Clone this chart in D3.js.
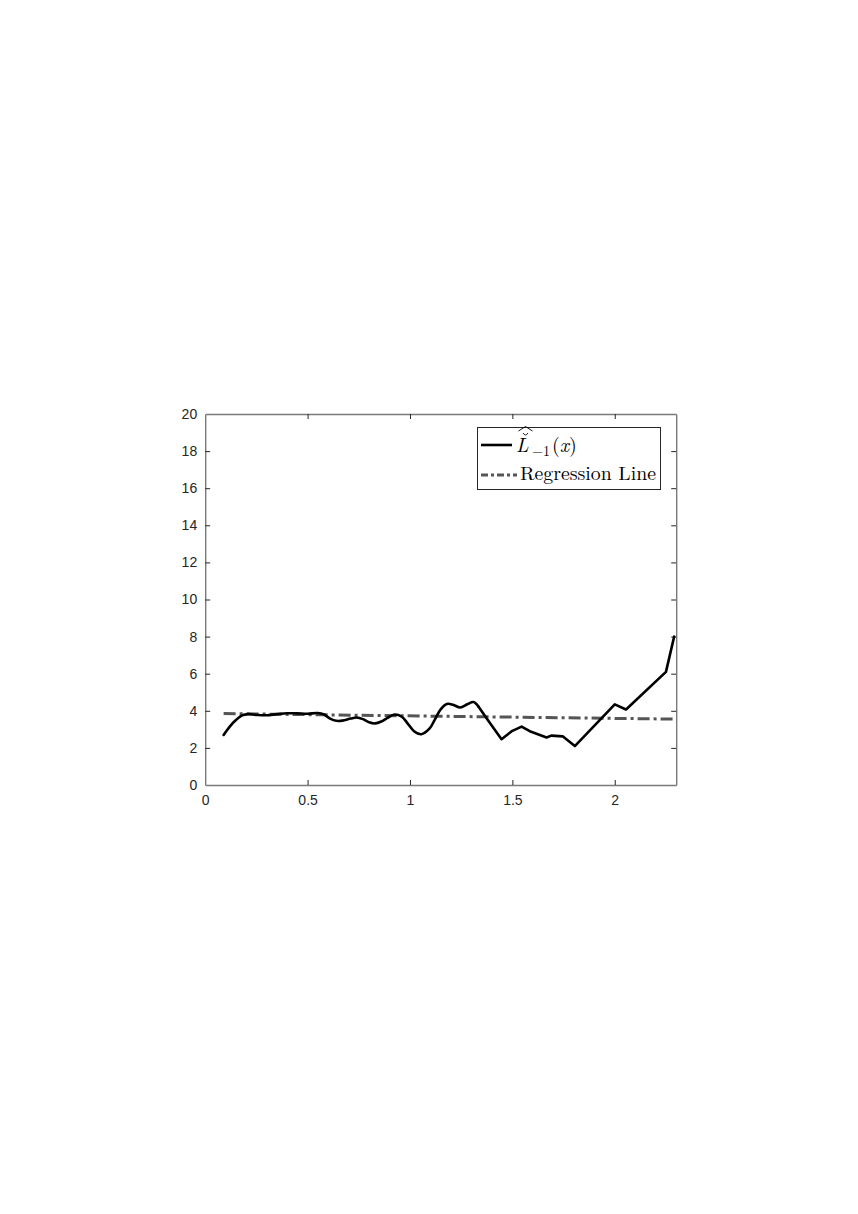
<!DOCTYPE html>
<html><head><meta charset="utf-8">
<script src="https://cdn.jsdelivr.net/npm/d3@7"></script>
<style>body{margin:0;background:#fff}svg{display:block}</style>
</head><body>
<script>
// ---- data ----
// smooth part of the estimated curve
const curveX = [0.09,0.12,0.15,0.18,0.21,0.25,0.30,0.35,0.40,0.45,0.50,0.55,0.58,0.61,0.64,0.67,0.71,0.74,0.77,0.80,0.83,0.86,0.89,0.925,0.96,0.99,1.02,1.055,1.096,1.12,1.15,1.18,1.21,1.245,1.28,1.31,1.335];
const curveY = [2.70,3.15,3.50,3.75,3.82,3.78,3.76,3.82,3.87,3.86,3.84,3.88,3.80,3.58,3.46,3.47,3.58,3.64,3.55,3.38,3.32,3.42,3.62,3.80,3.68,3.30,2.90,2.74,3.05,3.50,4.08,4.37,4.33,4.18,4.35,4.47,4.22];
// piecewise-linear tail of the estimated curve
const tailX = [1.335,1.38,1.447,1.50,1.545,1.585,1.667,1.69,1.747,1.805,2.0,2.055,2.25,2.29];
const tailY = [4.22,3.50,2.47,2.92,3.15,2.90,2.56,2.66,2.62,2.10,4.35,4.07,6.10,8.0];
const regX = [0.09, 2.3];
const regY = [3.85, 3.55];
const xTicks = [0, 0.5, 1, 1.5, 2];
const yTicks = [0, 2, 4, 6, 8, 10, 12, 14, 16, 18, 20];
const xTickLabels = ["0", "0.5", "1", "1.5", "2"];
const legendLabels = ["curve", "Regression Line"];

// ---- layout ----
const W = 858, H = 1214;
const svg = d3.select("body").append("svg").attr("width", W).attr("height", H);
const x = d3.scaleLinear().domain([0, 2.3]).range([205.2, 676.2]);
const y = d3.scaleLinear().domain([0, 20]).range([785, 414]);
const axisColor = "#7a7a7a", tickColor = "#262626", font = "'Liberation Sans', Arial, sans-serif";

// axes
const gx = svg.append("g").attr("transform", `translate(0,${y(0)})`)
  .call(d3.axisBottom(x).tickValues(xTicks).tickFormat((d,i)=>xTickLabels[i]).tickSizeInner(-5).tickSizeOuter(0).tickPadding(10));
const gy = svg.append("g").attr("transform", `translate(${x(0)},0)`)
  .call(d3.axisLeft(y).tickValues(yTicks).tickSizeInner(-5).tickSizeOuter(0).tickPadding(8));
const gt = svg.append("g").attr("transform", `translate(0,${y(20)})`)
  .call(d3.axisTop(x).tickValues(xTicks).tickFormat("").tickSizeInner(-5).tickSizeOuter(0));
const gr = svg.append("g").attr("transform", `translate(${x(2.3)},0)`)
  .call(d3.axisRight(y).tickValues(yTicks).tickFormat("").tickSizeInner(-5).tickSizeOuter(0));
[gx, gy, gt, gr].forEach(g => {
  g.select(".domain").attr("stroke", axisColor).attr("stroke-width", 1.4);
  g.selectAll(".tick line").attr("stroke", tickColor).attr("stroke-width", 1);
  g.selectAll(".tick text").attr("fill", tickColor).style("font-family", font).style("font-size", "14px");
});
[gx, gt].forEach(g => g.selectAll(".tick").filter(d => d === 0).select("line").remove());
[gy, gr].forEach(g => g.selectAll(".tick").filter(d => d === 0 || d === 20).select("line").remove());

// regression line
const line = d3.line().x(d => x(d[0])).y(d => y(d[1]));
svg.append("path").datum(regX.map((v,i)=>[v, regY[i]]))
  .attr("d", line).attr("fill", "none").attr("stroke", "#555").attr("stroke-width", 3)
  .attr("stroke-dasharray", "12,4,3,4");
// estimated curve: smooth part + linear tail
const smooth = d3.line().x(d => x(d[0])).y(d => y(d[1])).curve(d3.curveCatmullRom.alpha(0.5));
const straight = d3.line().x(d => x(d[0])).y(d => y(d[1]));
svg.append("path").datum(curveX.map((v,i)=>[v, curveY[i]]))
  .attr("d", smooth).attr("fill", "none").attr("stroke", "#000")
  .attr("stroke-width", 2.6).attr("stroke-linejoin", "round").attr("stroke-linecap", "round");
svg.append("path").datum(tailX.map((v,i)=>[v, tailY[i]]))
  .attr("d", straight).attr("fill", "none").attr("stroke", "#000")
  .attr("stroke-width", 2.6).attr("stroke-linejoin", "round").attr("stroke-linecap", "round");

// legend
const lg = svg.append("g");
lg.append("rect").attr("x", 477.5).attr("y", 427.5).attr("width", 183).attr("height", 62)
  .attr("fill", "#fff").attr("stroke", "#262626").attr("stroke-width", 1);
lg.append("line").attr("x1", 481).attr("x2", 512).attr("y1", 445).attr("y2", 445)
  .attr("stroke", "#000").attr("stroke-width", 2.6);
lg.append("line").attr("x1", 481).attr("x2", 517).attr("y1", 475).attr("y2", 475)
  .attr("stroke", "#555").attr("stroke-width", 3).attr("stroke-dasharray", "7,3,3,3");
const serif = "'Latin Modern Roman','Liberation Serif','DejaVu Serif',serif";
const t1 = lg.append("text").attr("y", 452).style("font-family", serif).style("font-size", "20px").attr("fill", "#000");
t1.append("tspan").attr("x", 516).style("font-style", "italic").text("L");
t1.append("tspan").attr("x", 532).attr("dy", 4).style("font-size", "14px").text("\u2212");
t1.append("tspan").attr("x", 543).style("font-size", "14px").text("1");
t1.append("tspan").attr("x", 552).attr("dy", -4).text("(");
t1.append("tspan").style("font-style", "italic").text("x");
t1.append("tspan").text(")");
// wide hat and breve accents over L
lg.append("path").attr("d", "M518.5,431 L525.5,426.5 L532.5,431").attr("fill", "none").attr("stroke", "#000").attr("stroke-width", 0.9);
lg.append("path").attr("d", "M523,433 Q525.5,437 528,433").attr("fill", "none").attr("stroke", "#000").attr("stroke-width", 0.9);
lg.append("text").attr("x", 520).attr("y", 480).style("font-family", serif).style("font-size", "19px").attr("fill", "#000")
  .attr("textLength", 136).attr("lengthAdjust", "spacingAndGlyphs")
  .text(legendLabels[1]);
</script>
</body></html>
